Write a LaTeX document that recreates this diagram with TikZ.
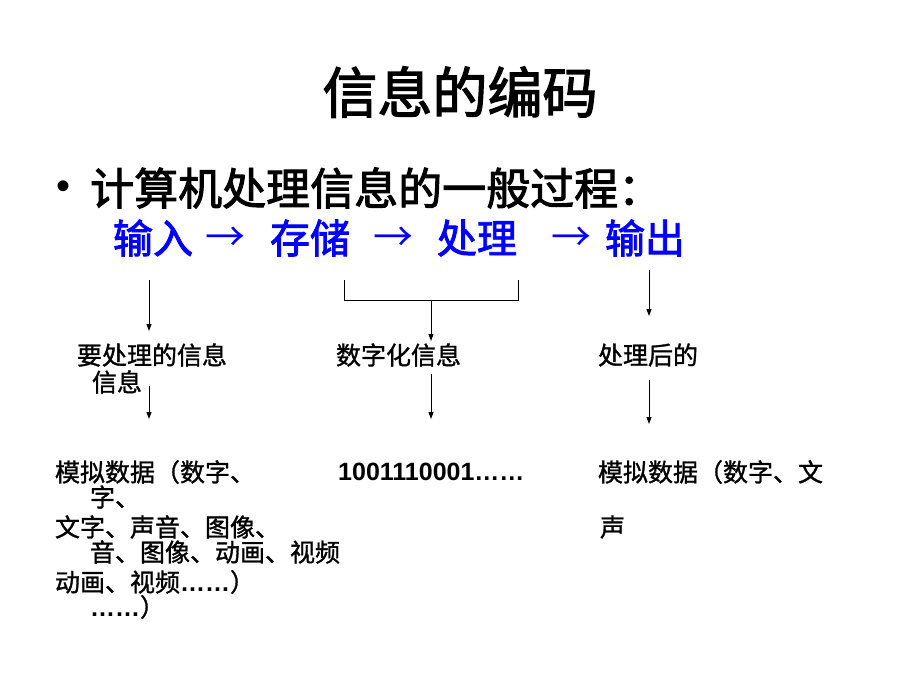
\documentclass[tikz,border=0pt]{standalone}
\usepackage{fontspec}
\setmainfont{Liberation Sans}
\newfontfamily\cjk[FakeBold=1.2]{Noto Sans CJK SC}
\newfontfamily\cjkh[FakeBold=2.2]{Noto Sans CJK SC}
\newfontfamily\cjkplain{Noto Sans CJK SC}
\newfontfamily\lat{Liberation Sans}
\definecolor{pblue}{RGB}{0,0,255}
\usetikzlibrary{arrows.meta}
\tikzset{
  txt/.style={inner sep=0pt, outer sep=0pt, anchor=west, font=\cjk\fontsize{25}{28}\selectfont},
  bluetxt/.style={inner sep=0pt, outer sep=0pt, anchor=west, text=pblue, font=\cjkh\fontsize{40}{44}\selectfont},
  bluearr/.style={inner sep=0pt, outer sep=0pt, anchor=center, text=pblue, font=\cjkplain\fontsize{40}{44}\selectfont},
  arr/.style={line width=0.9pt, -{Triangle[length=7pt,width=5pt]}},
  ln/.style={line width=0.9pt}
}
\begin{document}
\begin{tikzpicture}[x=1pt,y=-1pt]
\useasboundingbox (0,0) rectangle (920,690);
% title
\node[inner sep=0pt, font=\cjkh\fontsize{55}{60}\selectfont] (title) at (460,92) {信息的编码};
% bullet line
\node[inner sep=0pt, anchor=west, font=\lat\fontsize{40}{44}\selectfont] (bullet) at (56,190) {•};
\node[inner sep=0pt, anchor=west, font=\cjkh\fontsize{44}{48}\selectfont] (head) at (90,188) {计算机处理信息的一般过程：};
% blue process line
\node[bluetxt] (in) at (113,238) {输入};
\node[bluearr] (ar1) at (225,239) {→};
\node[bluetxt] (store) at (270,238) {存储};
\node[bluearr] (ar2) at (393,239) {→};
\node[bluetxt] (proc) at (437,238) {处理};
\node[bluearr] (ar3) at (571,239) {→};
\node[bluetxt] (out) at (605,238) {输出};
% labels
\node[txt] (lab1) at (77,355) {要处理的信息};
\node[txt] (lab1b) at (92,382) {信息};
\node[txt] (lab2) at (336,355) {数字化信息};
\node[txt] (lab3) at (598,355) {处理后的};
% bottom texts
\node[txt] (b1) at (55,472) {模拟数据（数字、};
\node[txt] (b2) at (90,497) {字、};
\node[txt] (b3) at (55,527) {文字、声音、图像、};
\node[txt] (b4) at (90,552) {音、图像、动画、视频};
\node[txt] (b5) at (55,582) {动画、视频{\lat\bfseries ……}）};
\node[txt] (b6) at (90,607) {{\lat\bfseries ……}）};
\node[inner sep=0pt, anchor=west, font=\lat\bfseries\fontsize{25}{28}\selectfont] (bin) at (338,472) {1001110001……};
\node[txt] (c1) at (598,472) {模拟数据（数字、文};
\node[txt] (c2) at (600,527) {声};
% connector coordinates
\coordinate (a1t) at (149,280);
\coordinate (a1b) at (149,331);
\coordinate (bl) at (344,280);
\coordinate (br) at (518,280);
\coordinate (bm) at (431,300);
\coordinate (bmb) at (431,341);
\coordinate (a3t) at (649,270);
\coordinate (a3b) at (649,316);
\coordinate (d1t) at (149,386);
\coordinate (d1b) at (149,419);
\coordinate (d2t) at (431,374);
\coordinate (d2b) at (431,419);
\coordinate (d3t) at (649,380);
\coordinate (d3b) at (649,424);
% connectors
\draw[arr] (a1t) -- (a1b);
\draw[ln] (bl) -- (bl |- bm) -- (br |- bm) -- (br);
\draw[arr] (bm) -- (bmb);
\draw[arr] (a3t) -- (a3b);
\draw[arr] (d1t) -- (d1b);
\draw[arr] (d2t) -- (d2b);
\draw[arr] (d3t) -- (d3b);
\end{tikzpicture}
\end{document}
